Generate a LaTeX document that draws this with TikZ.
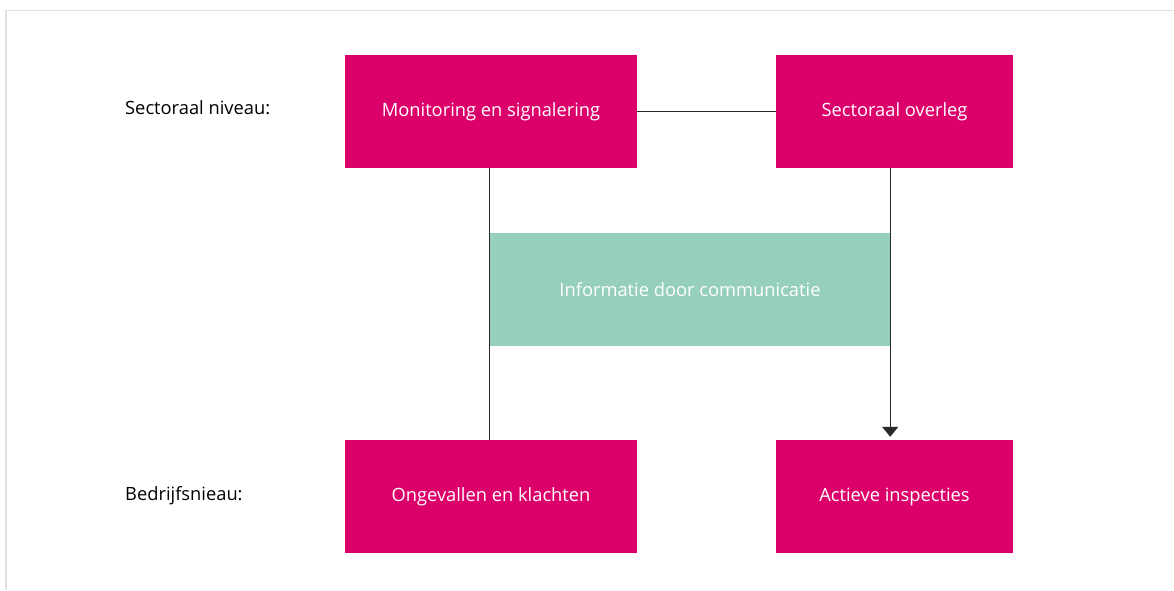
\documentclass[tikz,border=0pt]{standalone}
\usepackage{fontspec}
\setmainfont{Open Sans}
\usetikzlibrary{arrows.meta}
\definecolor{roze}{HTML}{DC006B}
\definecolor{mint}{HTML}{96CFBE}
\definecolor{lijn}{HTML}{2A2A2A}

\begin{document}
\begin{tikzpicture}[x=1pt,y=-1pt,
	blok/.style={fill=roze,text=white,minimum height=113pt,inner sep=0pt,font=\fontsize{18.3}{20}\selectfont},
	infoblok/.style={fill=mint,text=white,minimum width=400pt,minimum height=113pt,inner sep=0pt,font=\fontsize{18.3}{20}\selectfont},
	niveau/.style={anchor=west,inner sep=0pt,font=\fontsize{18.3}{20}\selectfont},
	verbinding/.style={draw=lijn,line width=1.2pt}]
\useasboundingbox (0,0) rectangle (1174,590);
\draw[black!12,line width=1.5pt] (6,590) -- (6,10.5) -- (1174,10.5);
% niveaus
\node[niveau] (sect) at (125,108) {Sectoraal niveau:};
\node[niveau] (bedr) at (125,496) {Bedrijfsnieau:};
% blokken
\node[blok,minimum width=292pt] (mon) at (491,111.5) {Monitoring en signalering};
\node[blok,minimum width=237pt] (overleg) at (894.5,111.5) {Sectoraal overleg};
\node[infoblok] (info) at (690,289.5) {Informatie door communicatie};
\node[blok,minimum width=292pt] (ong) at (491,496.5) {Ongevallen en klachten};
\node[blok,minimum width=237pt] (actief) at (894.5,496.5) {Actieve inspecties};
% verbindingen
\draw[verbinding] (mon.east) -- (overleg.west);
\draw[verbinding] (info.west |- mon.south) -- (info.west |- ong.north);
\draw[verbinding,-{Triangle[width=16pt,length=10pt]},shorten >=3pt] (info.east |- overleg.south) -- (info.east |- actief.north);
\end{tikzpicture}
\end{document}
